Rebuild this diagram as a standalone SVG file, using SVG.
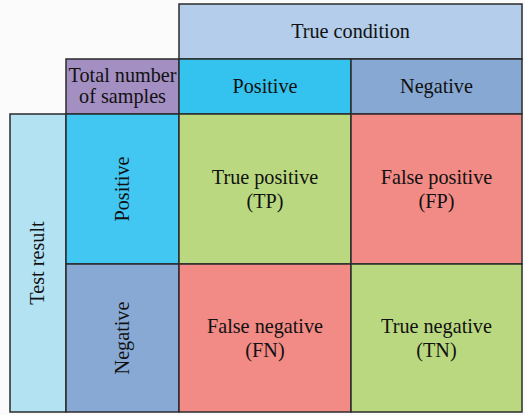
<svg xmlns="http://www.w3.org/2000/svg" width="525" height="415" viewBox="0 0 525 415">
<style>
.c{stroke:#2b2b2b;stroke-width:1.5}
text{font-family:"Liberation Serif","Times New Roman",serif;font-size:20.2px;fill:#111;text-anchor:middle}
</style>
<rect x="0" y="0" width="525" height="415" fill="#fbfbfb"/>
<g id="true-condition"><rect class="c" x="179" y="4" width="343" height="55" fill="#b3cdea"/><text x="350.5" y="38">True condition</text></g>
<g id="total"><rect class="c" x="66" y="59" width="113" height="55" fill="#a38fc2"/><text x="122.5" y="82">Total number</text><text x="122.5" y="103">of samples</text></g>
<g id="cond-positive"><rect class="c" x="179" y="59" width="172" height="55" fill="#34c3ef"/><text x="265" y="93">Positive</text></g>
<g id="cond-negative"><rect class="c" x="351" y="59" width="171" height="55" fill="#86a8d2"/><text x="436.5" y="93">Negative</text></g>
<g id="test-result"><rect class="c" x="10" y="114" width="56" height="298" fill="#b3e2f2"/><text transform="translate(44,263) rotate(-90)">Test result</text></g>
<g id="test-positive"><rect class="c" x="66" y="114" width="113" height="150" fill="#41c7f2"/><text transform="translate(128.5,189) rotate(-90)">Positive</text></g>
<g id="test-negative"><rect class="c" x="66" y="264" width="113" height="148" fill="#87a9d3"/><text transform="translate(128.5,338) rotate(-90)">Negative</text></g>
<g id="tp"><rect class="c" x="179" y="114" width="172" height="150" fill="#bad880"/><text x="265" y="184">True positive</text><text x="265" y="208">(TP)</text></g>
<g id="fp"><rect class="c" x="351" y="114" width="171" height="150" fill="#f28a85"/><text x="436.5" y="184">False positive</text><text x="436.5" y="208">(FP)</text></g>
<g id="fn"><rect class="c" x="179" y="264" width="172" height="148" fill="#f28a85"/><text x="265" y="333">False negative</text><text x="265" y="357">(FN)</text></g>
<g id="tn"><rect class="c" x="351" y="264" width="171" height="148" fill="#bad880"/><text x="436.5" y="333">True negative</text><text x="436.5" y="357">(TN)</text></g>
<g id="connectors"/>
</svg>
